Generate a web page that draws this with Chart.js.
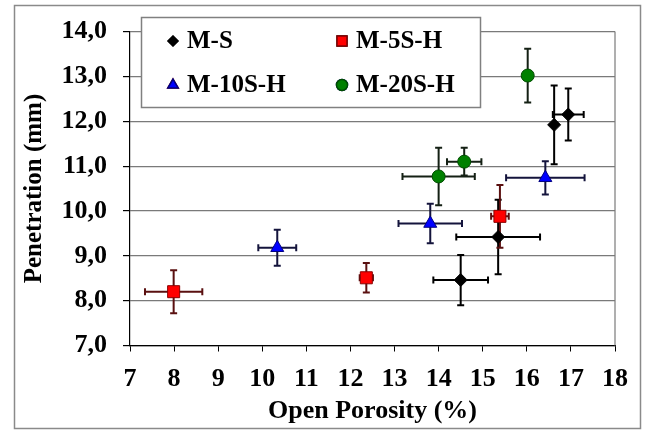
<!DOCTYPE html>
<html>
<head>
<meta charset="utf-8">
<title>Penetration vs Open Porosity</title>
<script src="https://cdn.jsdelivr.net/npm/chart.js@4.4.1/dist/chart.umd.min.js"></script>
<style>
body { margin: 0; background: #fff; }
canvas { display: block; }
</style>
</head>
<body>
<canvas id="porosity-chart" width="645" height="431"></canvas>
<script>
// Data (open porosity %, penetration mm, +/- errors)

const seriesNames = ['M-S', 'M-5S-H', 'M-10S-H', 'M-20S-H'];

const msPorosity = [14.5, 15.35, 16.62, 16.94];
const msPenetration = [8.46, 9.42, 11.92, 12.15];
const msPorosityErr = [0.62, 0.95, 0, 0.35];
const msPenetrationErr = [0.56, 0.83, 0.88, 0.58];

const m5Porosity = [7.99, 12.36, 15.39];
const m5Penetration = [8.2, 8.51, 9.88];
const m5PorosityErr = [0.65, 0.15, 0.2];
const m5PenetrationErr = [0.48, 0.33, 0.7];

const m10Porosity = [10.34, 13.81, 16.42];
const m10Penetration = [9.18, 9.72, 10.74];
const m10PorosityErr = [0.43, 0.72, 0.89];
const m10PenetrationErr = [0.4, 0.44, 0.37];

const m20Porosity = [14.0, 14.58, 16.02];
const m20Penetration = [10.77, 11.1, 13.02];
const m20PorosityErr = [0.82, 0.39, 0];
const m20PenetrationErr = [0.64, 0.31, 0.6];

const yTickLabels = ['7,0', '8,0', '9,0', '10,0', '11,0', '12,0', '13,0', '14,0'];

const serif = "'Liberation Serif', 'Times New Roman', serif";

function buildPoints(xs, ys, xe, ye) {
    return xs.map((x, i) => ({ x: x, y: ys[i], xErr: xe[i], yErr: ye[i] }));
}

//Error bars

const errorBars = {
    id: 'errorBars',
    beforeDatasetsDraw(chart) {
        const ctx = chart.ctx;
        const xs = chart.scales.x;
        const ys = chart.scales.y;
        const cap = 3.5;
        chart.data.datasets.forEach((ds) => {
            ctx.save();
            ctx.strokeStyle = ds.errorColor;
            ctx.lineWidth = 2;
            ds.data.forEach((p) => {
                const px = xs.getPixelForValue(p.x);
                const py = ys.getPixelForValue(p.y);
                ctx.beginPath();
                if (p.xErr > 0) {
                    const x1 = xs.getPixelForValue(p.x - p.xErr);
                    const x2 = xs.getPixelForValue(p.x + p.xErr);
                    ctx.moveTo(x1, py); ctx.lineTo(x2, py);
                    ctx.moveTo(x1, py - cap); ctx.lineTo(x1, py + cap);
                    ctx.moveTo(x2, py - cap); ctx.lineTo(x2, py + cap);
                }
                if (p.yErr > 0) {
                    const y1 = ys.getPixelForValue(p.y - p.yErr);
                    const y2 = ys.getPixelForValue(p.y + p.yErr);
                    ctx.moveTo(px, y1); ctx.lineTo(px, y2);
                    ctx.moveTo(px - cap, y1); ctx.lineTo(px + cap, y1);
                    ctx.moveTo(px - cap, y2); ctx.lineTo(px + cap, y2);
                }
                ctx.stroke();
            });
            ctx.restore();
        });
    }
};

//Frame, plot border and legend box

const frameAndLegend = {
    id: 'frameAndLegend',
    beforeDraw(chart) {
        const ctx = chart.ctx;
        ctx.save();
        ctx.fillStyle = '#fff';
        ctx.fillRect(0, 0, chart.width, chart.height);
        ctx.restore();
    },
    afterDraw(chart) {
        const ctx = chart.ctx;
        const area = chart.chartArea;
        ctx.save();
        // right edge of plot
        ctx.strokeStyle = '#7a7a7a';
        ctx.lineWidth = 1.2;
        ctx.beginPath();
        ctx.moveTo(area.right, area.top);
        ctx.lineTo(area.right, area.bottom);
        ctx.stroke();
        // outer frame
        ctx.strokeStyle = '#8a8a8a';
        ctx.lineWidth = 1.5;
        ctx.strokeRect(14.5, 5.5, 626, 423);

        // legend
        ctx.fillStyle = '#fff';
        ctx.fillRect(141.5, 17.5, 339, 90);
        ctx.strokeStyle = '#808080';
        ctx.lineWidth = 1.5;
        ctx.strokeRect(141.5, 17.5, 339, 90);

        const spots = [[173, 41], [342, 41], [173, 85], [342, 85]];
        ctx.font = 'bold 25px ' + serif;
        ctx.textBaseline = 'middle';
        ctx.textAlign = 'left';
        chart.data.datasets.forEach((ds, i) => {
            const [lx, ly] = spots[i];
            Chart.helpers.drawPoint(ctx, {
                pointStyle: ds.pointStyle,
                radius: ds.legendRadius,
                rotation: 0,
                borderWidth: 1
            }, lx, ly);
            ctx.fillStyle = ds.backgroundColor;
            ctx.strokeStyle = ds.borderColor;
            ctx.fill();
            ctx.stroke();
            ctx.fillStyle = '#000';
            ctx.fillText(ds.label, lx + 14, ly + 1);
        });
        ctx.restore();
    }
};

//Scatter chart

const porosityCanvas = document.getElementById('porosity-chart');

const porosityData = {
    datasets: [{
        label: seriesNames[0],
        data: buildPoints(msPorosity, msPenetration, msPorosityErr, msPenetrationErr),
        pointStyle: 'rectRot',
        pointRadius: 6.5,
        legendRadius: 5,
        backgroundColor: '#000000',
        borderColor: '#000000',
        errorColor: '#000000'
    }, {
        label: seriesNames[1],
        data: buildPoints(m5Porosity, m5Penetration, m5PorosityErr, m5PenetrationErr),
        pointStyle: 'rect',
        pointRadius: 8.5,
        legendRadius: 7,
        backgroundColor: '#ff0000',
        borderColor: '#8b0000',
        errorColor: '#5a1010'
    }, {
        label: seriesNames[2],
        data: buildPoints(m10Porosity, m10Penetration, m10PorosityErr, m10PenetrationErr),
        pointStyle: 'triangle',
        pointRadius: 7.5,
        legendRadius: 6,
        backgroundColor: '#0000ff',
        borderColor: '#000080',
        errorColor: '#14143c'
    }, {
        label: seriesNames[3],
        data: buildPoints(m20Porosity, m20Penetration, m20PorosityErr, m20PenetrationErr),
        pointStyle: 'circle',
        pointRadius: 6.5,
        legendRadius: 5.5,
        backgroundColor: '#008000',
        borderColor: '#004d00',
        errorColor: '#142014'
    }]
};

const porosityOptions = {
    responsive: false,
    animation: {
        duration: 0
    },
    layout: {
        padding: { left: 16, right: 30, top: 21.5, bottom: 4 }
    },
    scales: {
        x: {
            type: 'linear',
            min: 7,
            max: 18,
            afterFit: (scale) => { scale.height = 81.5; },
            ticks: {
                stepSize: 1,
                padding: 12,
                color: '#000',
                font: { family: serif, size: 26, weight: 'bold' }
            },
            grid: {
                drawOnChartArea: false,
                drawTicks: true,
                tickLength: 6,
                tickColor: '#000'
            },
            border: { color: '#000', width: 1.2 },
            title: {
                display: true,
                text: 'Open Porosity (%)',
                color: '#000',
                padding: { top: 0, bottom: 0 },
                font: { family: serif, size: 26, weight: 'bold' }
            }
        },
        y: {
            type: 'linear',
            min: 7,
            max: 14,
            afterFit: (scale) => { scale.width = 114; },
            ticks: {
                stepSize: 1,
                padding: 16,
                color: '#000',
                font: { family: serif, size: 26, weight: 'bold' },
                callback: (value, index) => yTickLabels[index]
            },
            grid: {
                color: '#7a7a7a',
                lineWidth: 1.2,
                tickLength: 7,
                tickColor: '#000'
            },
            border: { color: '#000', width: 1.2 },
            title: {
                display: true,
                text: 'Penetration (mm)',
                color: '#000',
                padding: { top: 4, bottom: 0 },
                font: { family: serif, size: 25, weight: 'bold' }
            }
        }
    },
    plugins: {
        legend: {
            display: false
        },
        tooltip: {
            enabled: false
        }
    }
};

let porosityChart = new Chart(porosityCanvas, {
    type: 'scatter',
    data: porosityData,
    options: porosityOptions,
    plugins: [errorBars, frameAndLegend]
});
</script>
</body>
</html>
